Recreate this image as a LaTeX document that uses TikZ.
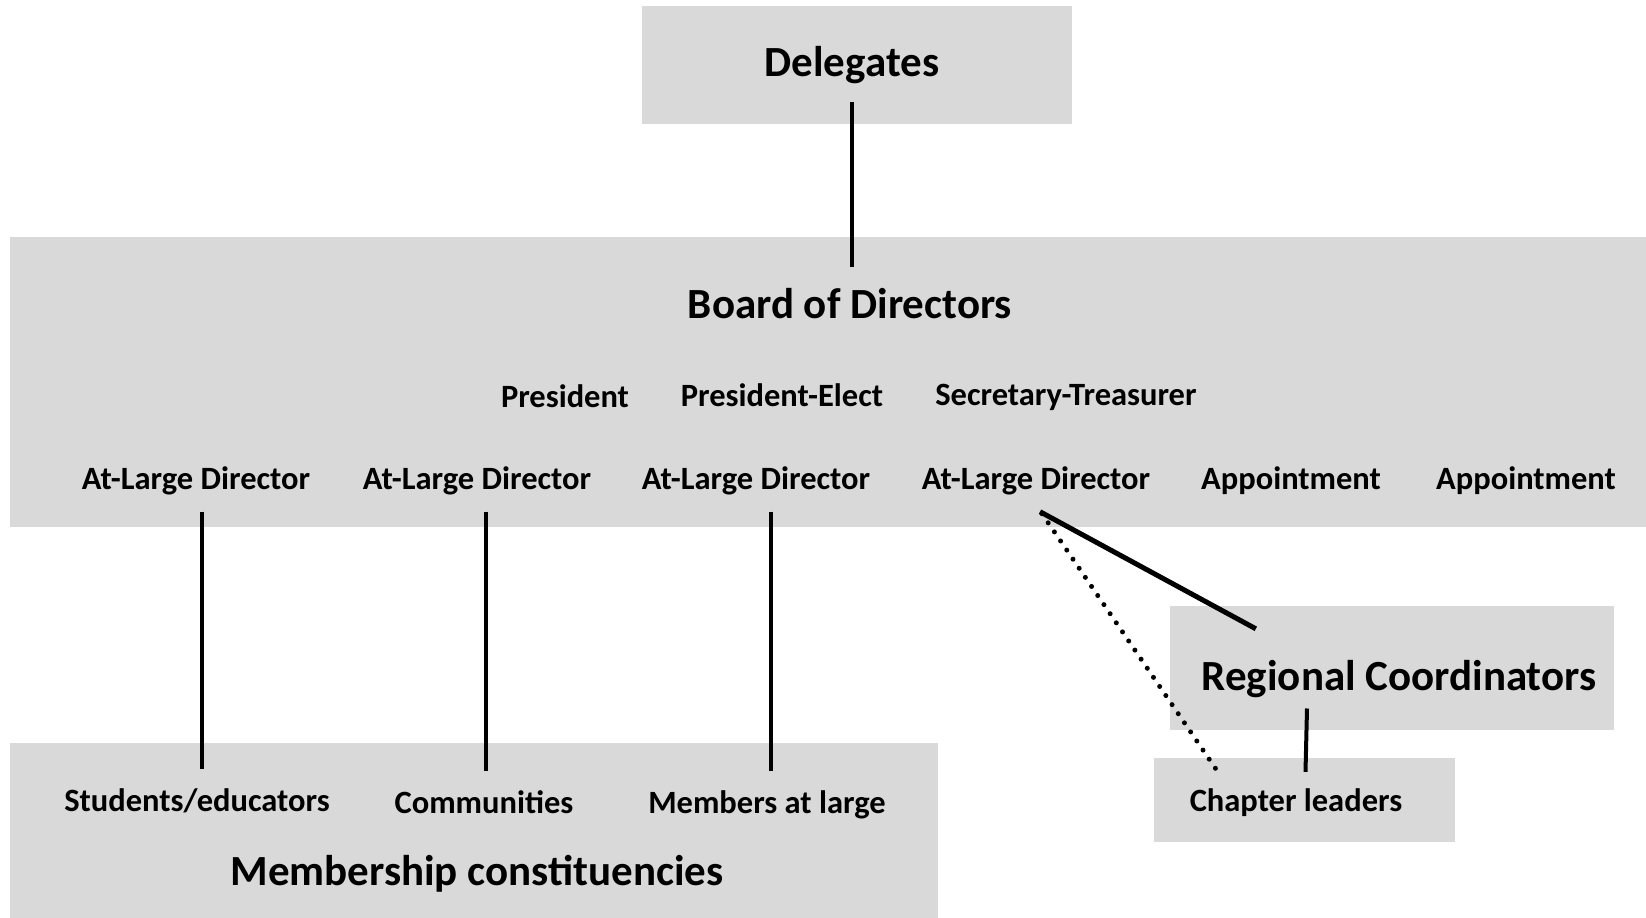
\documentclass[tikz,border=0pt]{standalone}
\usepackage{fontspec}
\setmainfont{Carlito}
\usetikzlibrary{calc}

\definecolor{boxgray}{RGB}{217,217,217}

\tikzset{
  panel/.style = {fill=boxgray, draw=none, inner sep=0pt},
  bigtxt/.style = {font=\fontsize{43}{50}\selectfont\bfseries, inner sep=0pt, anchor=base},
  smalltxt/.style = {font=\fontsize{32.5}{38}\selectfont\bfseries, inner sep=0pt, anchor=base},
  link/.style = {line width=4pt},
  dotlink/.style = {line width=5pt, line cap=round, dash pattern=on 0pt off 11pt}
}

\begin{document}
\begin{tikzpicture}[x = 1pt, y = -1pt]
    \useasboundingbox (0,0) rectangle (1646,918);
    % grey panels
    \node[panel, minimum width=430pt, minimum height=118pt] (dlgbox) at (857,65) {};
    \node[panel, minimum width=1636pt, minimum height=290pt] (bodbox) at (828,382) {};
    \node[panel, minimum width=928pt, minimum height=175pt] (membox) at (474,830.5) {};
    \node[panel, minimum width=444pt, minimum height=124pt] (rcbox) at (1392,668) {};
    \node[panel, minimum width=301pt, minimum height=84pt] (clbox) at (1304.5,800) {};
    % titles
    \node[bigtxt] (dlg) at (852,76) {Delegates};
    \node[bigtxt] (bod) at (850,318) {Board of Directors};
    \node[bigtxt] (mem) at (477,885) {Membership constituencies};
    \node[bigtxt] (rc) at (1399,690) {Regional Coordinators};
    % officers
    \node[smalltxt] (pres) at (565,407) {President};
    \node[smalltxt] (pel) at (782,406) {President-Elect};
    \node[smalltxt] (sec) at (1066,405) {Secretary-Treasurer};
    % directors
    \node[smalltxt] (d1) at (196,489) {At-Large Director};
    \node[smalltxt] (d2) at (477,489) {At-Large Director};
    \node[smalltxt] (d3) at (756,489) {At-Large Director};
    \node[smalltxt] (d4) at (1036,489) {At-Large Director};
    \node[smalltxt] (app1) at (1291,489) {Appointment};
    \node[smalltxt] (app2) at (1526,489) {Appointment};
    % constituencies
    \node[smalltxt] (stu) at (197,811) {Students/educators};
    \node[smalltxt] (com) at (484,813) {Communities};
    \node[smalltxt] (mal) at (767,813) {Members at large};
    \node[smalltxt] (cl) at (1296,811) {Chapter leaders};

    \draw[link, shorten <=19pt, shorten >=21pt] (dlg.south) -- (dlg.south |- bod.north);
    \foreach \d/\m/\dx in {d1/stu/4.5, d2/com/2, d3/mal/3.5}
        \draw[link, shorten <=17pt, shorten >=19pt] ($(\m.north |- \d.south)+(\dx,0)$) -- ($(\m.north)+(\dx,0)$);
    \draw[link, line width=5pt] ($(d4.south)+(4,17)$) -- ($(rcbox.north west)+(86,23)$);
    \draw[dotlink] ($(d4.south)+(6,19)$) -- ($(clbox.north west)+(64,14)$);
    \draw[link] ($(rc.south)+(-92,11)$) -- ($(clbox.north)+(1,14)$);
\end{tikzpicture}
\end{document}
